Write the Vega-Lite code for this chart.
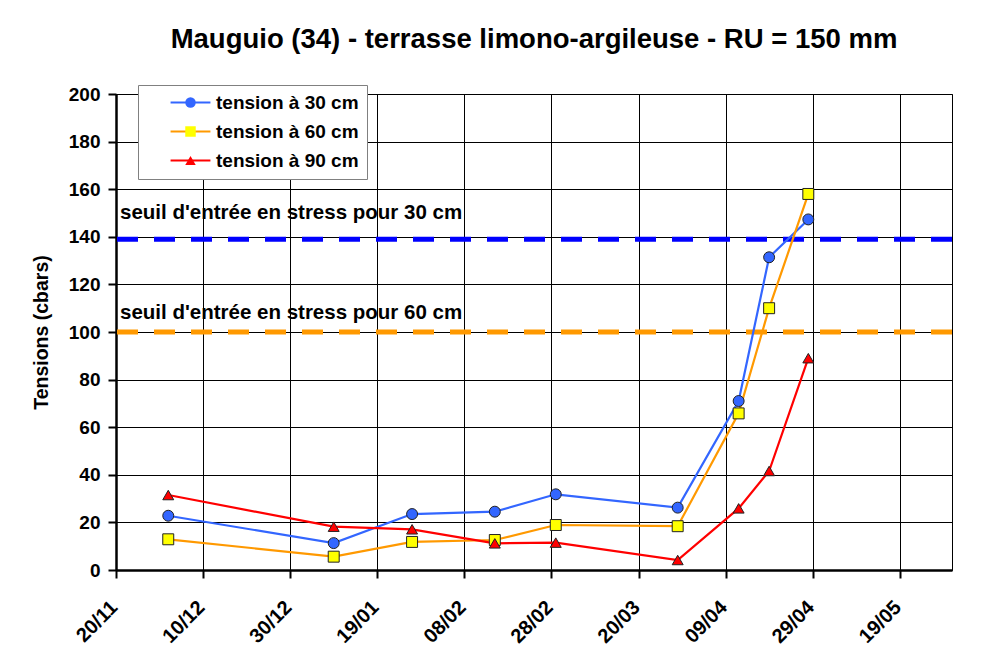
{
  "$schema": "https://vega.github.io/schema/vega-lite/v6.json",
  "width": 836,
  "height": 476,
  "autosize": {"type": "none"},
  "padding": {"left": 116, "top": 94, "right": 30, "bottom": 80},
  "background": "white",
  "title": {
    "text": "Mauguio (34) - terrasse limono-argileuse - RU = 150 mm",
    "font": "Liberation Sans",
    "fontSize": 27.5,
    "fontWeight": "bold",
    "color": "#000",
    "anchor": "middle",
    "frame": "group",
    "offset": 31
  },
  "datasets": {
    "tensions": [
      {"date": "2006-12-02", "serie": "tension à 30 cm", "tension": 22.8},
      {"date": "2007-01-09", "serie": "tension à 30 cm", "tension": 11.3},
      {"date": "2007-01-27", "serie": "tension à 30 cm", "tension": 23.5},
      {"date": "2007-02-15", "serie": "tension à 30 cm", "tension": 24.5},
      {"date": "2007-03-01", "serie": "tension à 30 cm", "tension": 31.8},
      {"date": "2007-03-29", "serie": "tension à 30 cm", "tension": 26.2},
      {"date": "2007-04-12", "serie": "tension à 30 cm", "tension": 71},
      {"date": "2007-04-19", "serie": "tension à 30 cm", "tension": 131.4},
      {"date": "2007-04-28", "serie": "tension à 30 cm", "tension": 147.3},
      {"date": "2006-12-02", "serie": "tension à 60 cm", "tension": 12.9},
      {"date": "2007-01-09", "serie": "tension à 60 cm", "tension": 5.6},
      {"date": "2007-01-27", "serie": "tension à 60 cm", "tension": 11.8},
      {"date": "2007-02-15", "serie": "tension à 60 cm", "tension": 12.6},
      {"date": "2007-03-01", "serie": "tension à 60 cm", "tension": 18.9},
      {"date": "2007-03-29", "serie": "tension à 60 cm", "tension": 18.4},
      {"date": "2007-04-12", "serie": "tension à 60 cm", "tension": 65.8},
      {"date": "2007-04-19", "serie": "tension à 60 cm", "tension": 110},
      {"date": "2007-04-28", "serie": "tension à 60 cm", "tension": 158},
      {"date": "2006-12-02", "serie": "tension à 90 cm", "tension": 31.5},
      {"date": "2007-01-09", "serie": "tension à 90 cm", "tension": 18.2},
      {"date": "2007-01-27", "serie": "tension à 90 cm", "tension": 17.1},
      {"date": "2007-02-15", "serie": "tension à 90 cm", "tension": 11.2},
      {"date": "2007-03-01", "serie": "tension à 90 cm", "tension": 11.5},
      {"date": "2007-03-29", "serie": "tension à 90 cm", "tension": 4.2},
      {"date": "2007-04-12", "serie": "tension à 90 cm", "tension": 25.9},
      {"date": "2007-04-19", "serie": "tension à 90 cm", "tension": 41.6},
      {"date": "2007-04-28", "serie": "tension à 90 cm", "tension": 89}
    ],
    "seuils": [
      {"profondeur": "30 cm", "seuil": 139, "label": "seuil d'entrée en stress pour 30 cm"},
      {"profondeur": "60 cm", "seuil": 100, "label": "seuil d'entrée en stress pour 60 cm"}
    ]
  },
  "config": {
    "font": "Liberation Sans",
    "view": {"stroke": "#000", "strokeWidth": 1},
    "axis": {
      "labelFont": "Liberation Sans",
      "labelFontWeight": "bold",
      "labelFontSize": 19,
      "labelColor": "#000",
      "domainColor": "#000",
      "domainWidth": 2.5,
      "tickColor": "#000",
      "tickWidth": 2,
      "tickSize": 8,
      "grid": true,
      "gridColor": "#000",
      "gridWidth": 1,
      "gridOpacity": 1,
      "titleFont": "Liberation Sans",
      "titleFontWeight": "bold",
      "titleFontSize": 19.5,
      "titleColor": "#000"
    }
  },
  "layer": [
    {
      "data": {"name": "seuils"},
      "mark": {"type": "rule", "strokeWidth": 5, "strokeDash": [21, 16]},
      "encoding": {
        "y": {"field": "seuil", "type": "quantitative", "scale": {"domain": [0, 200], "nice": false}},
        "stroke": {
          "field": "profondeur",
          "type": "nominal",
          "scale": {"domain": ["30 cm", "60 cm"], "range": ["#0000FF", "#FF9900"]},
          "legend": null
        }
      }
    },
    {
      "data": {"name": "seuils"},
      "transform": [{"filter": "datum.profondeur == '30 cm'"}],
      "mark": {"type": "text", "align": "left", "baseline": "alphabetic", "dx": 4, "dy": -20, "fontSize": 20.5, "fontWeight": "bold", "font": "Liberation Sans", "fill": "#000"},
      "encoding": {
        "x": {"datum": {"year": 2006, "month": 11, "date": 20, "utc": true}, "type": "temporal"},
        "y": {"field": "seuil", "type": "quantitative"},
        "text": {"field": "label", "type": "nominal"}
      }
    },
    {
      "data": {"name": "seuils"},
      "transform": [{"filter": "datum.profondeur == '60 cm'"}],
      "mark": {"type": "text", "align": "left", "baseline": "alphabetic", "dx": 4, "dy": -13, "fontSize": 20.5, "fontWeight": "bold", "font": "Liberation Sans", "fill": "#000"},
      "encoding": {
        "x": {"datum": {"year": 2006, "month": 11, "date": 20, "utc": true}, "type": "temporal"},
        "y": {"field": "seuil", "type": "quantitative"},
        "text": {"field": "label", "type": "nominal"}
      }
    },
    {
      "data": {"name": "tensions"},
      "encoding": {
        "x": {
          "field": "date",
          "type": "temporal",
          "scale": {
            "type": "utc",
            "domain": [
              {"year": 2006, "month": 11, "date": 20, "utc": true},
              {"year": 2007, "month": 5, "date": 31, "utc": true}
            ]
          },
          "axis": {
            "title": null,
            "labelExpr": "utcFormat(datum.value, '%d/%m')",
            "labelAngle": -45,
            "labelAlign": "right",
            "labelBaseline": "middle",
            "labelPadding": 26,
            "labelOffset": -2,
            "labelFontSize": 20,
            "values": [
              {"year": 2006, "month": 11, "date": 20, "utc": true},
              {"year": 2006, "month": 12, "date": 10, "utc": true},
              {"year": 2006, "month": 12, "date": 30, "utc": true},
              {"year": 2007, "month": 1, "date": 19, "utc": true},
              {"year": 2007, "month": 2, "date": 8, "utc": true},
              {"year": 2007, "month": 2, "date": 28, "utc": true},
              {"year": 2007, "month": 3, "date": 20, "utc": true},
              {"year": 2007, "month": 4, "date": 9, "utc": true},
              {"year": 2007, "month": 4, "date": 29, "utc": true},
              {"year": 2007, "month": 5, "date": 19, "utc": true}
            ]
          }
        },
        "y": {
          "field": "tension",
          "type": "quantitative",
          "axis": {
            "title": "Tensions (cbars)",
            "values": [0, 20, 40, 60, 80, 100, 120, 140, 160, 180, 200],
            "labelPadding": 8,
            "titlePadding": 17
          }
        }
      },
      "layer": [
        {
          "mark": {"type": "line", "strokeWidth": 2.2},
          "encoding": {
            "color": {
              "field": "serie",
              "type": "nominal",
              "scale": {"domain": ["tension à 30 cm", "tension à 60 cm", "tension à 90 cm"], "range": ["#3366FF", "#FF9900", "#FF0000"]},
              "legend": {
                "title": null,
                "orient": "none",
                "legendX": 22,
                "legendY": -9,
                "padding": 8,
                "fillColor": "white",
                "strokeColor": "#808080",
                "symbolType": "M-3.8,0H3.8",
                "symbolSize": 110,
                "symbolStrokeWidth": 2.2,
                "symbolFillColor": "transparent",
                "symbolOffset": 35,
                "labelOffset": 16,
                "rowPadding": 9,
                "labelFont": "Liberation Sans",
                "labelFontSize": 19,
                "labelFontWeight": "bold",
                "labelColor": "#000",
                "labelLimit": 0
              }
            }
          }
        },
        {
          "mark": {"type": "point", "filled": true, "stroke": "#222", "strokeWidth": 1, "opacity": 1, "size": 120},
          "encoding": {
            "shape": {
              "field": "serie",
              "type": "nominal",
              "scale": {"range": ["circle", "square", "triangle-up"]},
              "legend": {
                "title": null,
                "orient": "none",
                "legendX": 22,
                "legendY": -9,
                "padding": 8,
                "symbolSize": 110,
                "symbolStrokeColor": "#222",
                "symbolStrokeWidth": 1,
                "symbolOpacity": 1,
                "symbolOffset": 35,
                "labelOffset": 16,
                "rowPadding": 9,
                "labelFont": "Liberation Sans",
                "labelFontSize": 19,
                "labelFontWeight": "bold",
                "labelOpacity": 0,
                "labelLimit": 0
              }
            },
            "fill": {
              "field": "serie",
              "type": "nominal",
              "scale": {"range": ["#3366FF", "#FFFF00", "#FF0000"]},
              "legend": {
                "title": null,
                "orient": "none",
                "legendX": 22,
                "legendY": -9,
                "padding": 8,
                "symbolSize": 110,
                "symbolStrokeColor": "#222",
                "symbolStrokeWidth": 1,
                "symbolOpacity": 1,
                "symbolOffset": 35,
                "labelOffset": 16,
                "rowPadding": 9,
                "labelFont": "Liberation Sans",
                "labelFontSize": 19,
                "labelFontWeight": "bold",
                "labelOpacity": 0,
                "labelLimit": 0
              }
            }
          }
        }
      ]
    }
  ]
}
